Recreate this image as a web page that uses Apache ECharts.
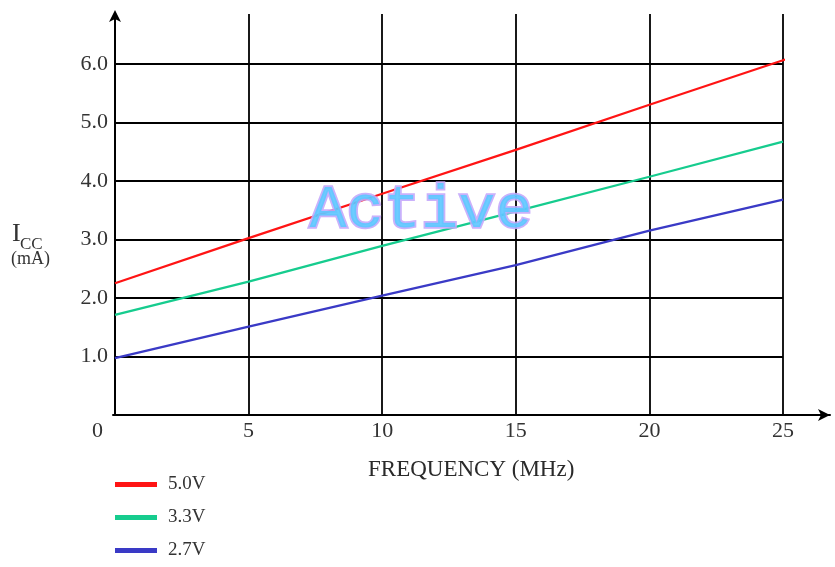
<!DOCTYPE html>
<html>
<head>
<meta charset="utf-8">
<style>
  html, body { margin: 0; padding: 0; background: #fff; }
  #chart { width: 835px; height: 567px; }
</style>
<script src="https://cdn.jsdelivr.net/npm/echarts@6/dist/echarts.min.js"></script>
</head>
<body>
<div id="chart"></div>
<script>
// values (ICC in mA vs frequency in MHz)
const freq = [0, 5, 10, 15, 20, 25]
const freq5V = [0, 5, 10, 15, 20, 25, 25.35]
const icc5V = [2.25, 3.02, 3.78, 4.53, 5.3, 6.06, 6.11]
const icc33V = [1.71, 2.28, 2.89, 3.48, 4.07, 4.67]
const icc27V = [0.97, 1.51, 2.04, 2.56, 3.15, 3.68]
const seriesNames = ['5.0V', '3.3V', '2.7V']
const seriesColors = ['#ff1414', '#16cc8e', '#3a3ac6']
const xTickLabels = ['0', '5', '10', '15', '20', '25']
const yTickLabels = ['1.0', '2.0', '3.0', '4.0', '5.0', '6.0']

const serif = '"Liberation Serif", "Times New Roman", serif'
const textColor = '#333'

const pairs = (xs, ys) => xs.map((x, i) => [x, ys[i]])

const makeLine = (name, data, color) => ({
  name,
  type: 'line',
  xAxisIndex: 0,
  yAxisIndex: 0,
  data,
  symbol: 'none',
  clip: false,
  lineStyle: { color, width: 2.3 },
  itemStyle: { color },
  z: 5
})

const chart = echarts.init(document.getElementById('chart'))

chart.setOption({
  animation: false,
  backgroundColor: '#fff',
  grid: [
    { left: 115, right: 52, top: 14, bottom: 152 },
    { left: 113, right: 5, top: 14, bottom: 152 }
  ],
  xAxis: [
    {
      type: 'value',
      gridIndex: 0,
      min: 0,
      max: 25,
      interval: 5,
      axisLine: { show: false },
      axisTick: { show: false },
      splitLine: { show: true, lineStyle: { color: '#000', width: 1.8 } },
      axisLabel: {
        margin: 5,
        fontFamily: serif,
        fontSize: 22,
        color: textColor,
        formatter: v => {
          const i = freq.indexOf(v)
          if (i < 0) return ''
          return i === 0 ? '{o|' + xTickLabels[i] + '}' : xTickLabels[i]
        },
        rich: {
          o: { fontFamily: serif, fontSize: 22, color: textColor, padding: [0, 35, 0, 0] }
        }
      }
    },
    {
      type: 'value',
      gridIndex: 1,
      min: 0,
      max: 1,
      axisLine: {
        show: true,
        symbol: ['none', 'arrow'],
        symbolSize: [9, 12],
        lineStyle: { color: '#000', width: 2 }
      },
      axisTick: { show: false },
      axisLabel: { show: false },
      splitLine: { show: false }
    }
  ],
  yAxis: [
    {
      type: 'value',
      gridIndex: 0,
      min: 0,
      max: 6.85,
      interval: 1,
      axisLine: {
        show: true,
        symbol: ['none', 'arrow'],
        symbolSize: [9, 12],
        symbolOffset: [0, 4],
        lineStyle: { color: '#000', width: 2 }
      },
      axisTick: { show: false },
      splitLine: { show: true, showMaxLine: false, lineStyle: { color: '#000', width: 1.8 } },
      axisLabel: {
        margin: 7,
        fontFamily: serif,
        fontSize: 22,
        color: textColor,
        padding: [0, 0, 6, 0],
        showMaxLabel: false,
        formatter: v => (Number.isInteger(v) && v >= 1 && v <= 6 ? yTickLabels[v - 1] : '')
      }
    },
    { type: 'value', gridIndex: 1, show: false, min: 0, max: 1 }
  ],
  legend: {
    orient: 'vertical',
    left: 110,
    top: 470,
    icon: 'rect',
    itemWidth: 42,
    itemHeight: 5,
    itemGap: 14,
    data: seriesNames,
    textStyle: { fontFamily: serif, fontSize: 19, color: textColor, padding: [0, 0, 0, 6] }
  },
  graphic: [
    {
      type: 'text',
      x: 368,
      y: 470,
      style: { text: 'FREQUENCY (MHz)', fontFamily: serif, fontSize: 23, fill: '#2a2a2a', verticalAlign: 'middle' }
    },
    {
      type: 'text',
      x: 12,
      y: 234,
      style: { text: 'I', fontFamily: serif, fontSize: 26, fill: textColor, verticalAlign: 'middle' }
    },
    {
      type: 'text',
      x: 20,
      y: 245,
      style: { text: 'CC', fontFamily: serif, fontSize: 17, fill: textColor, verticalAlign: 'middle' }
    },
    {
      type: 'text',
      x: 11,
      y: 259,
      style: { text: '(mA)', fontFamily: serif, fontSize: 18, fill: textColor, verticalAlign: 'middle' }
    },
    {
      type: 'text',
      x: 421,
      y: 211,
      z: 10,
      style: {
        text: 'Active',
        fontFamily: '"Liberation Mono", "Courier New", monospace',
        fontSize: 62,
        fill: '#5cc8ff',
        stroke: '#c4a8fb',
        lineWidth: 3.5,
        strokeFirst: true,
        align: 'center',
        verticalAlign: 'middle',
        opacity: 0.9
      }
    }
  ],
  series: [
    makeLine(seriesNames[0], pairs(freq5V, icc5V), seriesColors[0]),
    makeLine(seriesNames[1], pairs(freq, icc33V), seriesColors[1]),
    makeLine(seriesNames[2], pairs(freq, icc27V), seriesColors[2])
  ]
})
</script>
</body>
</html>
